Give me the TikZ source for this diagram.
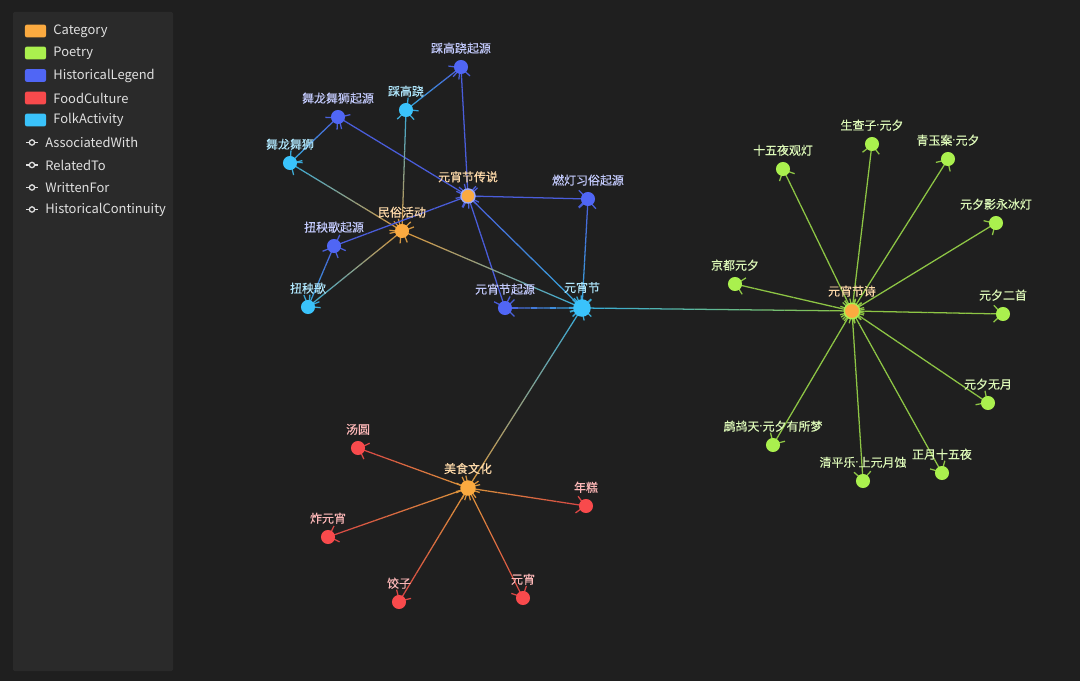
\documentclass[tikz,border=0pt]{standalone}
\usepackage{fontspec}
\newfontfamily\cjk{Noto Sans CJK SC}
\newfontfamily\cjklbl{Noto Sans CJK SC}[FakeBold=0.4]
\newfontfamily\latin{Noto Sans}
\newcommand{\mdot}{{\latin ·}}
\usetikzlibrary{arrows.meta,calc,positioning}
\definecolor{bgc}{HTML}{1F1F1F}
\definecolor{legbg}{HTML}{2A2A2A}
\definecolor{cat}{HTML}{FBAA40}
\definecolor{poem}{HTML}{AAF04E}
\definecolor{hist}{HTML}{5066F5}
\definecolor{food}{HTML}{F84A4C}
\definecolor{folk}{HTML}{3AC3FB}
\colorlet{eCat}{cat!85!bgc}
\colorlet{ePoem}{poem!80!bgc}
\colorlet{eHist}{hist!88!bgc}
\colorlet{eFood}{food!85!bgc}
\colorlet{eFolk}{folk!85!bgc}
\pgfdeclarelayer{bglayer}
\pgfdeclarelayer{edgelayer}
\pgfsetlayers{bglayer,edgelayer,main}
\tikzset{
  barb/.tip={Straight Barb[length=6pt,width=12pt]},
  edge/.style={line width=0.9pt},
  dot/.style={circle,inner sep=0pt,minimum size=10pt},
  catnode/.style={dot,fill=cat},
  poemnode/.style={dot,fill=poem},
  histnode/.style={dot,fill=hist},
  foodnode/.style={dot,fill=food},
  folknode/.style={dot,fill=folk},
  lbl/.style={inner sep=0.5pt,font=\cjklbl\fontsize{8.5}{9}\selectfont},
  every label/.style={lbl},
  label distance=3.5pt,
  swatch/.style={rounded corners=1.5pt,minimum width=15pt,minimum height=9.2pt,inner sep=0pt},
  legtxt/.style={anchor=west,inner sep=0pt,text=white!88!black,font=\cjk\fontsize{9.2}{10}\selectfont},
  legline/.style={white!88!black,line width=0.9pt}
}
% gradient edge: from, to, colour at start, colour at end
\newcommand{\gradedge}[4]{%
  \draw[edge,draw=#3!96!#4,barb-] (#1.center) -- ($(#1.center)!1/12!(#2.center)$);
  \foreach \k in {1,...,10}{%
    \pgfmathtruncatemacro\pc{(\k+0.5)*100/12}%
    \draw[edge,draw=#4!\pc!#3] ($(#1.center)!{\k/12}!(#2.center)$) -- ($(#1.center)!{(\k+1)/12}!(#2.center)$);}
  \draw[edge,draw=#4!96!#3,-barb] ($(#1.center)!11/12!(#2.center)$) -- (#2.center);}

\begin{document}
\begin{tikzpicture}[x=0.025cm,y=-0.025cm,font=\cjk]
\begin{pgfonlayer}{bglayer}
\fill[bgc] (0,0) rectangle (1080,681);
\fill[legbg,rounded corners=1pt] (13,12) rectangle (173,671);
\end{pgfonlayer}
\useasboundingbox (0,0) rectangle (1080,681);

% legend
\node[swatch,fill=cat] (lg1) at (35.5,31) {};
\node[legtxt,right=0.17cm of lg1] {Category};
\node[swatch,fill=poem] (lg2) at (35.5,53) {};
\node[legtxt,right=0.17cm of lg2] {Poetry};
\node[swatch,fill=hist] (lg3) at (35.5,75.5) {};
\node[legtxt,right=0.17cm of lg3] {HistoricalLegend};
\node[swatch,fill=food] (lg4) at (35.5,98) {};
\node[legtxt,right=0.17cm of lg4] {FoodCulture};
\node[swatch,fill=folk] (lg5) at (35.5,120) {};
\node[legtxt,right=0.17cm of lg5] {FolkActivity};
\foreach \y/\t in {142.5/AssociatedWith,165/RelatedTo,187.5/WrittenFor,209.5/HistoricalContinuity}{
  \draw[legline] (26,\y) -- (38,\y);
  \draw[legline,fill=legbg] (32,\y) circle (1.9pt);
  \node[legtxt] at (45,\y) {\t};
}

% legends and folk activities
\node[histnode,label={[text=hist!35!white]above:踩高跷起源}] (qgqy) at (461,67) {};
\node[folknode,label={[text=folk!40!white]above:踩高跷}] (qgq) at (406,110) {};
\node[histnode,label={[text=hist!35!white]above:舞龙舞狮起源}] (wlqy) at (338,117) {};
\node[folknode,label={[text=folk!40!white]above:舞龙舞狮}] (wl) at (290,163) {};
\node[catnode,draw=hist!55!white,line width=1pt,label={[text=cat!45!white]above:元宵节传说}] (chuanshuo) at (468,196) {};
\node[histnode,label={[text=hist!35!white]above:燃灯习俗起源}] (rdqy) at (588,199) {};
\node[catnode,label={[text=cat!45!white]above:民俗活动}] (minsu) at (402,231) {};
\node[histnode,label={[text=hist!35!white]above:扭秧歌起源}] (ygqy) at (334,246) {};
\node[folknode,label={[text=folk!40!white]above:扭秧歌}] (yg) at (308,307) {};
\node[histnode,label={[text=hist!35!white]above:元宵节起源}] (jieqy) at (505,308) {};
\node[folknode,minimum size=12.5pt,label={[text=folk!40!white]above:元宵节}] (jie) at (582,308) {};

% poems
\node[catnode,minimum size=11pt,draw=poem,line width=1pt,label={[text=cat!45!white]above:元宵节诗}] (shi) at (852,311) {};
\node[poemnode,label={[text=poem!40!white]above:京都元夕}] (jingdu) at (735,284) {};
\node[poemnode,label={[text=poem!40!white]above:十五夜观灯}] (guandeng) at (783,169) {};
\node[poemnode,label={[text=poem!40!white]above:生查子\mdot 元夕}] (shengzha) at (872,144) {};
\node[poemnode,label={[text=poem!40!white]above:青玉案\mdot 元夕}] (qingyu) at (948,159) {};
\node[poemnode,label={[text=poem!40!white]above:元夕影永冰灯}] (bingdeng) at (996,223) {};
\node[poemnode,label={[text=poem!40!white]above:元夕二首}] (ershou) at (1003,314) {};
\node[poemnode,label={[text=poem!40!white]above:元夕无月}] (wuyue) at (988,403) {};
\node[poemnode,label={[text=poem!40!white]above:正月十五夜}] (shiwu) at (942,473) {};
\node[poemnode,label={[text=poem!40!white]above:清平乐\mdot 上元月蚀}] (qingping) at (863,481) {};
\node[poemnode,label={[text=poem!40!white]above:鹧鸪天\mdot 元夕有所梦}] (zhegu) at (773,445) {};

% food
\node[catnode,minimum size=11pt,label={[text=cat!45!white]above:美食文化}] (meishi) at (468,488) {};
\node[foodnode,label={[text=food!40!white]above:汤圆}] (tangyuan) at (358,448) {};
\node[foodnode,label={[text=food!40!white]above:年糕}] (niangao) at (586,506) {};
\node[foodnode,label={[text=food!40!white]above:炸元宵}] (zha) at (328,537) {};
\node[foodnode,label={[text=food!40!white]above:饺子}] (jiaozi) at (399,602) {};
\node[foodnode,label={[text=food!40!white]above:元宵}] (yuanxiao) at (523,598) {};

\begin{pgfonlayer}{edgelayer}
\gradedge{qgqy}{qgq}{eHist}{eFolk}
\gradedge{qgqy}{chuanshuo}{eHist}{eHist}
\gradedge{wlqy}{wl}{eHist}{eFolk}
\gradedge{wlqy}{chuanshuo}{eHist}{eHist}
\gradedge{wl}{minsu}{eFolk}{eCat}
\gradedge{qgq}{minsu}{eFolk}{eCat}
\gradedge{chuanshuo}{ygqy}{eHist}{eHist}
\gradedge{chuanshuo}{rdqy}{eHist}{eHist}
\gradedge{chuanshuo}{jieqy}{eHist}{eHist}
\gradedge{chuanshuo}{jie}{eHist}{eFolk}
\gradedge{rdqy}{jie}{eHist}{eFolk}
\gradedge{minsu}{jie}{eCat}{eFolk}
\gradedge{minsu}{yg}{eCat}{eFolk}
\gradedge{ygqy}{yg}{eHist}{eFolk}
\gradedge{jieqy}{jie}{eHist}{eFolk}
\gradedge{jie}{shi}{eFolk}{ePoem}
\gradedge{jie}{meishi}{eFolk}{eCat}
\foreach \p in {jingdu,guandeng,shengzha,qingyu,bingdeng,ershou,wuyue,shiwu,qingping,zhegu}{
  \gradedge{shi}{\p}{ePoem}{ePoem}}
\foreach \f in {tangyuan,niangao,zha,jiaozi,yuanxiao}{
  \gradedge{meishi}{\f}{eCat}{eFood}}
\end{pgfonlayer}
\end{tikzpicture}
\end{document}
